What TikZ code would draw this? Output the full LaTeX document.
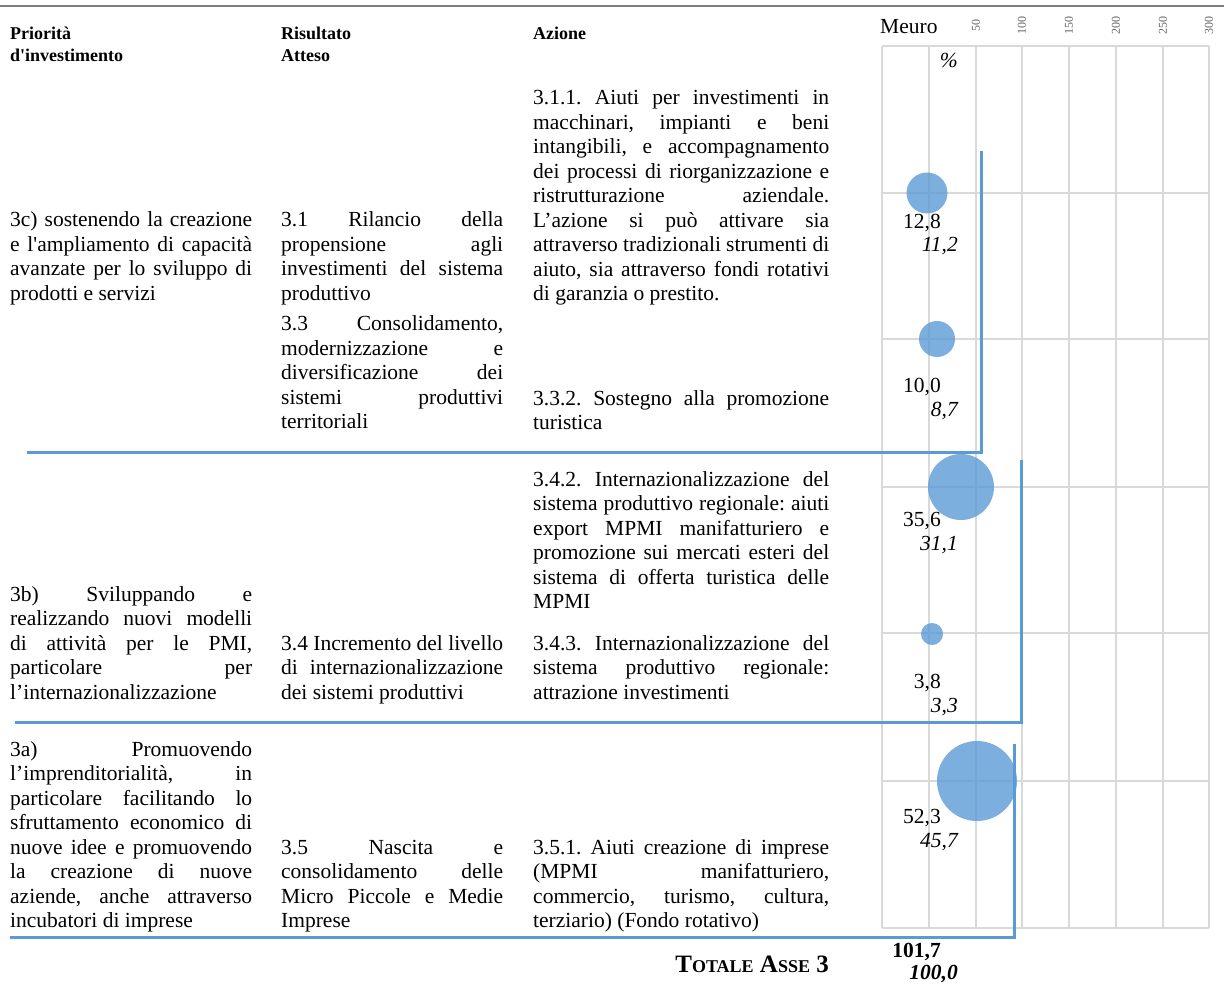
\documentclass[tikz,border=0pt]{standalone}
\usepackage{fontspec}
\setmainfont{Liberation Serif}
\frenchspacing
\hyphenpenalty=10000
\exhyphenpenalty=10000
\tolerance=10000

\definecolor{chartblue}{RGB}{91,155,213}
\definecolor{gridgray}{RGB}{217,217,217}
\definecolor{rulegray}{RGB}{127,127,127}

% one justified line of a table cell
\newcommand{\jl}[1]{#1\linebreak}
\newcommand{\sq}{\textquotesingle}

\tikzset{
  body/.style={inner sep=0pt, anchor=base west, align=justify, font=\fontsize{21.5}{24.5}\selectfont},
  prio/.style={body, text width=242pt},
  risult/.style={body, text width=222pt},
  azione/.style={body, text width=296pt},
  head/.style={inner sep=0pt, anchor=base west, align=left, text width=200pt, font=\bfseries\fontsize{18}{22}\selectfont},
  bubble/.style={circle, inner sep=0pt, draw=none, fill=chartblue, fill opacity=0.8},
  meuro/.style={inner sep=0pt, anchor=base east, font=\fontsize{21.5}{24}\selectfont},
  perc/.style={inner sep=0pt, anchor=base east, font=\itshape\fontsize{21.5}{24}\selectfont},
  gridline/.style={gridgray, line width=1.3pt},
  bracket/.style={chartblue, line width=3pt},
  tick/.style={inner sep=0pt, rotate=90, text=black!60, font=\fontsize{12}{12}\selectfont}
}

\begin{document}
\begin{tikzpicture}[x=1pt, y=-1pt]
    \useasboundingbox (0,0) rectangle (1224,984);

    % Top rule
    \draw[rulegray, line width=2.5pt] (0,6) -- (1224,6);

    % Column headers
    \node[head] (hprio) at (10,40) {Priorità\\d\sq investimento};
    \node[head] (hris) at (281,40) {Risultato\\Atteso};
    \node[head] (hazi) at (533,40) {Azione};

    % Chart grid
    \foreach \gx in {882,929,976,1022,1069,1116,1163,1209}
        \draw[gridline] (\gx,46) -- (\gx,928);
    \foreach \gy in {46,193,339,487,633,781,928}
        \draw[gridline] (882,\gy) -- (1209,\gy);

    % Axis labels
    \node[inner sep=0pt, anchor=base west, font=\fontsize{21.5}{24}\selectfont] (meuro) at (880,34) {Meuro};
    \foreach \tx/\tl in {976/50,1022/100,1069/150,1116/200,1163/250,1209/300}
        \node[tick] (t\tl) at (\tx,26) {\tl};
    \node[perc] (pct) at (958,68) {\%};

    % Bubbles
    \node[bubble, minimum size=41pt] (b311) at (927,193) {};
    \node[bubble, minimum size=36pt] (b332) at (937,339) {};
    \node[bubble, minimum size=66pt] (b342) at (961,487) {};
    \node[bubble, minimum size=22pt] (b343) at (932,634) {};
    \node[bubble, minimum size=80pt] (b351) at (977,781) {};

    % Values
    \node[meuro] (v311) at (941,229) {12,8};
    \node[perc] (p311) at (958,252) {11,2};
    \node[meuro] (v332) at (941,392) {10,0};
    \node[perc] (p332) at (958,416) {8,7};
    \node[meuro] (v342) at (941,526) {35,6};
    \node[perc] (p342) at (958,550) {31,1};
    \node[meuro] (v343) at (941,688) {3,8};
    \node[perc] (p343) at (958,712) {3,3};
    \node[meuro] (v351) at (941,823) {52,3};
    \node[perc] (p351) at (958,847) {45,7};
    \node[meuro, font=\bfseries\fontsize{21.5}{24}\selectfont] (vtot) at (941,957) {101,7};
    \node[perc, font=\bfseries\itshape\fontsize{21.5}{24}\selectfont] (ptot) at (958,979) {100,0};

    % Priority 3c
    \node[prio] (pri3c) at (10,227) {\jl{3c) sostenendo la creazione}
        \jl{e l\sq ampliamento di capacità}
        \jl{avanzate per lo sviluppo di}
        prodotti e servizi};
    \node[risult] (ris31) at (281,227) {\jl{3.1 Rilancio della}
        \jl{propensione agli}
        \jl{investimenti del sistema}
        produttivo};
    \node[risult] (ris33) at (281,331) {\jl{3.3 Consolidamento,}
        \jl{modernizzazione e}
        \jl{diversificazione dei}
        \jl{sistemi produttivi}
        territoriali};
    \node[azione] (az311) at (533,105) {\jl{3.1.1. Aiuti per investimenti in}
        \jl{macchinari, impianti e beni}
        \jl{intangibili, e accompagnamento}
        \jl{dei processi di riorganizzazione e}
        \jl{ristrutturazione aziendale.}
        \jl{L’azione si può attivare sia}
        \jl{attraverso tradizionali strumenti di}
        \jl{aiuto, sia attraverso fondi rotativi}
        di garanzia o prestito.};
    \node[azione] (az332) at (533,405) {\jl{3.3.2. Sostegno alla promozione}
        turistica};

    % Priority 3b
    \node[prio] (pri3b) at (10,601) {\jl{3b) Sviluppando e}
        \jl{realizzando nuovi modelli}
        \jl{di attività per le PMI,}
        \jl{particolare per}
        l’internazionalizzazione};
    \node[risult] (ris34) at (281,650) {\jl{3.4 Incremento del livello}
        \jl{di internazionalizzazione}
        dei sistemi produttivi};
    \node[azione] (az342) at (533,486) {\jl{3.4.2. Internazionalizzazione del}
        \jl{sistema produttivo regionale: aiuti}
        \jl{export MPMI manifatturiero e}
        \jl{promozione sui mercati esteri del}
        \jl{sistema di offerta turistica delle}
        MPMI};
    \node[azione] (az343) at (533,650) {\jl{3.4.3. Internazionalizzazione del}
        \jl{sistema produttivo regionale:}
        attrazione investimenti};

    % Priority 3a
    \node[prio] (pri3a) at (10,756) {\jl{3a) Promuovendo}
        \jl{l’imprenditorialità, in}
        \jl{particolare facilitando lo}
        \jl{sfruttamento economico di}
        \jl{nuove idee e promuovendo}
        \jl{la creazione di nuove}
        \jl{aziende, anche attraverso}
        incubatori di imprese};
    \node[risult] (ris35) at (281,854) {\jl{3.5 Nascita e}
        \jl{consolidamento delle}
        \jl{Micro Piccole e Medie}
        Imprese};
    \node[azione] (az351) at (533,854) {\jl{3.5.1. Aiuti creazione di imprese}
        \jl{(MPMI manifatturiero,}
        \jl{commercio, turismo, cultura,}
        terziario) (Fondo rotativo)};

    % Brackets round each priority
    \draw[bracket] (27,452) -- (981,452) -- (981,151);
    \draw[bracket] (15,722) -- (1021,722) -- (1021,460);
    \draw[bracket] (10,937) -- (1014,937) -- (1014,744);

    % Total
    \node[inner sep=0pt, anchor=base east, font=\bfseries\fontsize{25}{25}\selectfont] (totale) at (829,972)
        {T{\fontsize{18}{18}\selectfont OTALE} A{\fontsize{18}{18}\selectfont SSE} 3};
\end{tikzpicture}
\end{document}
